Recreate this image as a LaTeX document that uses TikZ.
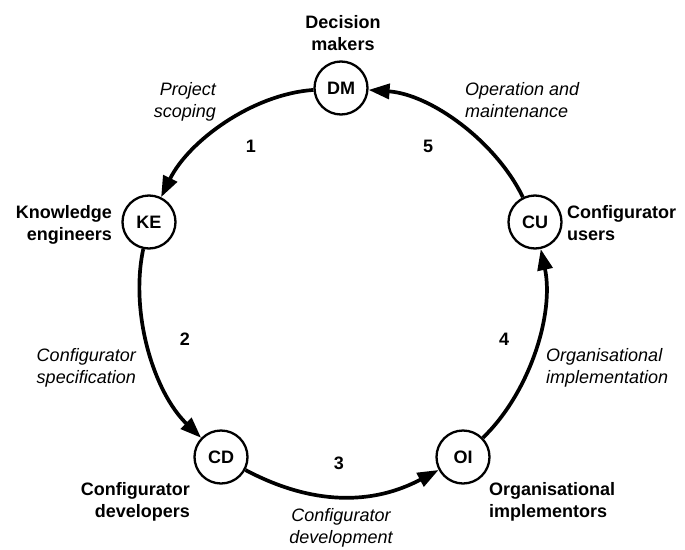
\documentclass[tikz,border=0pt]{standalone}
\usepackage{fontspec}
\setmainfont{Liberation Sans}
\usetikzlibrary{arrows.meta}
\begin{document}
\begin{tikzpicture}[x=1pt,y=1pt,
  actor/.style={circle,draw,line width=2.3pt,minimum size=53pt,inner sep=0pt,font=\fontsize{18}{22}\selectfont\bfseries},
  role/.style={font=\fontsize{18}{22}\selectfont\bfseries,inner sep=0pt},
  phase/.style={font=\fontsize{18}{21.5}\selectfont\itshape,inner sep=0pt},
  num/.style={font=\fontsize{18}{22}\selectfont\bfseries,inner sep=0pt},
  flow/.style={line width=3.7pt,-{Triangle[length=21pt,width=15pt]}},
]
\useasboundingbox (0,0) rectangle (685,-549);
% actors
\node[actor] (DM) at (341,-88) {DM};
\node[actor] (KE) at (149,-222) {KE};
\node[actor] (CD) at (221,-457) {CD};
\node[actor] (OI) at (463,-457) {OI};
\node[actor] (CU) at (535,-222) {CU};
% flows
\draw[flow] (DM) to[out=184,in=64,looseness=0.85] (KE);
\draw[flow] (KE) to[out=258,in=136,looseness=0.85] (CD);
\draw[flow] (CD) to[out=-28,in=208,looseness=1] (OI);
\draw[flow] (OI) to[out=44,in=282,looseness=0.85] (CU);
\draw[flow] (CU) to[out=116,in=-4,looseness=0.85] (DM);
% role labels (anchor = baseline of the last line)
\node[role,anchor=base,align=center] (lDM) at (343,-50) {Decision\\makers};
\node[role,anchor=base east,align=right] (lKE) at (112,-240) {Knowledge\\engineers};
\node[role,anchor=base west,align=left] (lCU) at (567,-240) {Configurator\\users};
\node[role,anchor=base east,align=right] (lCD) at (190,-517) {Configurator\\developers};
\node[role,anchor=base west,align=left] (lOI) at (489,-517) {Organisational\\implementors};
% phase labels
\node[phase,anchor=base east,align=right] (p1) at (216,-117) {Project\\scoping};
\node[phase,anchor=base west,align=left] (p5) at (465,-117) {Operation and\\maintenance};
\node[phase,anchor=base east,align=right] (p2) at (136,-383) {Configurator\\specification};
\node[phase,anchor=base west,align=left] (p4) at (546,-383) {Organisational\\implementation};
\node[phase,anchor=base,align=center] (p3) at (341,-543) {Configurator\\development};
% numbers
\node[num] (n1) at (251,-146) {1};
\node[num] (n5) at (428,-146) {5};
\node[num] (n2) at (185,-339) {2};
\node[num] (n4) at (504,-339) {4};
\node[num] (n3) at (339,-463) {3};
\end{tikzpicture}
\end{document}
